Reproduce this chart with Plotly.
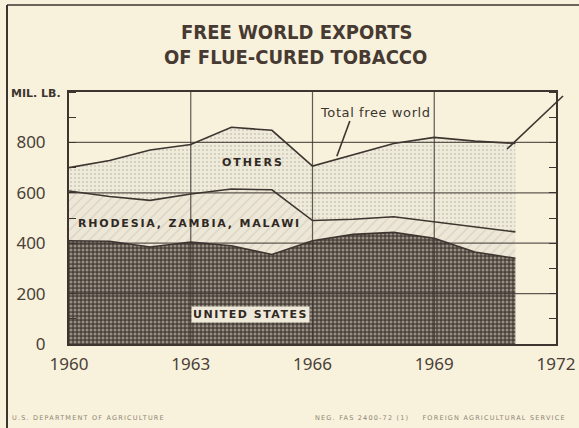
import plotly.graph_objects as go

# ---- data (million lb) ----
years = [1960, 1961, 1962, 1963, 1964, 1965, 1966, 1967, 1968, 1969, 1970, 1971]
united_states = [410, 408, 385, 405, 390, 355, 410, 435, 443, 420, 365, 340]
rhodesia_zambia_malawi = [197, 177, 185, 190, 225, 257, 80, 60, 62, 65, 100, 105]
others = [93, 143, 200, 197, 245, 236, 216, 257, 291, 335, 340, 351]
x_ticks = [1960, 1963, 1966, 1969, 1972]
y_ticks = [0, 200, 400, 600, 800]

INK = "#3d3530"
PAPER = "#f8f2dc"

# plot area in pixels
L, R, T, B = 69, 556, 92, 344
W, H = 579, 428

def py(p):
    return (B - p) / (B - T)

def px(p):
    return (p - L) / (R - L)

fig = go.Figure()

fig.add_trace(go.Scatter(
    x=years, y=united_states, stackgroup="s", mode="lines",
    line=dict(color=INK, width=1.6),
    fillcolor="#5a5048",
    fillpattern=dict(shape=".", bgcolor="#4a423b", fgcolor="#e4dccb", size=4, solidity=0.45),
    hoverinfo="skip", name="United States"))
fig.add_trace(go.Scatter(
    x=years, y=rhodesia_zambia_malawi, stackgroup="s", mode="lines",
    line=dict(color=INK, width=1.6),
    fillcolor="#ece6d4",
    fillpattern=dict(shape="/", bgcolor="#ece7d6", fgcolor="#bdb4a3", size=7, solidity=0.15),
    hoverinfo="skip", name="Rhodesia, Zambia, Malawi"))
fig.add_trace(go.Scatter(
    x=years, y=others, stackgroup="s", mode="lines",
    line=dict(color=INK, width=1.6),
    fillcolor="#ebe6d5",
    fillpattern=dict(shape=".", bgcolor="#efebdb", fgcolor="#a39a89", size=4, solidity=0.16),
    hoverinfo="skip", name="Others"))

shapes = []
for yv in y_ticks[1:]:
    shapes.append(dict(type="line", xref="paper", yref="y", x0=0, x1=1, y0=yv, y1=yv,
                       line=dict(color=INK, width=1.2), layer="above", opacity=0.8))
for xv in x_ticks[1:-1]:
    shapes.append(dict(type="line", xref="x", yref="paper", x0=xv, x1=xv, y0=0, y1=1,
                       line=dict(color=INK, width=1.2), layer="above", opacity=0.8))
# pointer lines for "Total free world"
shapes.append(dict(type="line", xref="x", yref="y", x0=1966.92, y0=885, x1=1966.6, y1=745,
                   line=dict(color=INK, width=1.6), layer="above"))
shapes.append(dict(type="line", xref="paper", yref="paper", x0=px(507), y0=py(149), x1=px(563), y1=py(96),
                   line=dict(color=INK, width=1.6), layer="above"))
# outer frame (top and left edge)
shapes.append(dict(type="line", xref="paper", yref="paper", x0=px(7), x1=px(579), y0=py(5), y1=py(5),
                   line=dict(color=INK, width=1.5)))
shapes.append(dict(type="line", xref="paper", yref="paper", x0=px(7), x1=px(7), y0=py(5), y1=py(428),
                   line=dict(color=INK, width=2)))

ann = []
TITLE_FONT = dict(family="DejaVu Sans Condensed, DejaVu Sans", size=20, color="#463a32", weight="bold")
ann.append(dict(text="FREE WORLD EXPORTS", xref="paper", yref="paper", x=px(297), y=py(32),
                showarrow=False, font=TITLE_FONT, xanchor="center", yanchor="middle"))
ann.append(dict(text="OF FLUE-CURED TOBACCO", xref="paper", yref="paper", x=px(295), y=py(57),
                showarrow=False, font=TITLE_FONT, xanchor="center", yanchor="middle"))
ann.append(dict(text="MIL. LB.", xref="paper", yref="paper", x=px(9), y=py(93),
                showarrow=False, xanchor="left", yanchor="middle",
                font=dict(family="DejaVu Sans", size=11, color=INK, weight="bold")))
LAB = dict(family="DejaVu Sans", size=11, color="#2f2823", weight="bold")
ann.append(dict(text='<span style="letter-spacing:2px">OTHERS</span>', x=1964.53, y=722,
                showarrow=False, font=LAB))
ann.append(dict(text='<span style="letter-spacing:1.8px">RHODESIA, ZAMBIA, MALAWI</span>',
                x=1962.98, y=480, showarrow=False, font=LAB))
ann.append(dict(text='<span style="letter-spacing:1.5px">UNITED STATES</span>', x=1964.46, y=119,
                showarrow=False, font=LAB, bgcolor="#eee9d8", borderpad=1))
ann.append(dict(text='<span style="letter-spacing:0.6px">Total free world</span>', x=1967.54, y=920,
                showarrow=False, font=dict(family="DejaVu Sans", size=13, color=INK)))
FOOT = dict(family="DejaVu Sans", size=6.5, color="#8f8576")
ann.append(dict(text='<span style="letter-spacing:1.2px">U.S. DEPARTMENT OF AGRICULTURE</span>',
                xref="paper", yref="paper", x=px(10), y=py(418), showarrow=False,
                xanchor="left", yanchor="middle", font=FOOT))
ann.append(dict(text='<span style="letter-spacing:1.2px">NEG. FAS 2400-72 (1)    FOREIGN AGRICULTURAL SERVICE</span>',
                xref="paper", yref="paper", x=px(568), y=py(418), showarrow=False,
                xanchor="right", yanchor="middle", font=FOOT))

TICK_FONT = dict(family="Noto Sans", size=17, color="#4a4038")
fig.update_layout(
    width=W, height=H,
    margin=dict(l=L, r=W - R, t=T, b=H - B, autoexpand=False),
    paper_bgcolor=PAPER, plot_bgcolor=PAPER,
    showlegend=False,
    shapes=shapes, annotations=ann,
    xaxis=dict(range=[1960, 1972], tickvals=x_ticks, showgrid=False, zeroline=False,
               showline=True, mirror=True, linecolor=INK, linewidth=2, ticks="",
               tickfont=TICK_FONT, ticklabelstandoff=4, fixedrange=True, automargin=False),
    yaxis=dict(range=[0, 1000], tickvals=y_ticks, showgrid=False, zeroline=False,
               showline=True, mirror="allticks", linecolor=INK, linewidth=2, ticks="",
               minor=dict(dtick=100, ticks="inside", ticklen=7, tickcolor=INK, tickwidth=1.3, showgrid=False),
               tickfont=TICK_FONT, ticklabelstandoff=18, fixedrange=True, automargin=False),
)

fig.write_html(
    "out.html",
    config={"displayModeBar": False},
    post_script="document.body.style.margin='0';document.body.style.background='#f8f2dc';"
                "document.body.style.overflow='hidden';",
)
